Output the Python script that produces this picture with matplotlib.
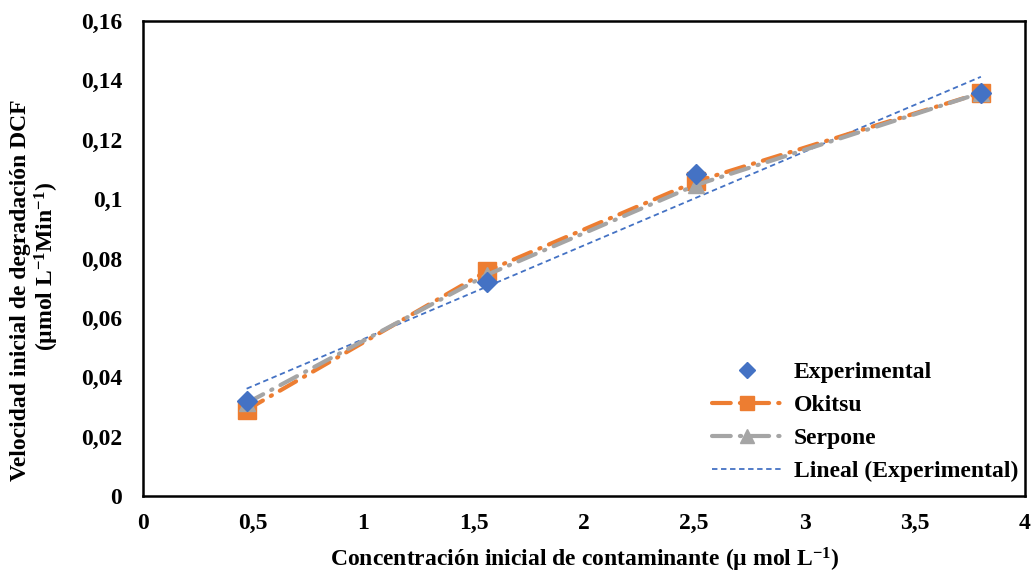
import numpy as np
import matplotlib
matplotlib.use('Agg')
import matplotlib.pyplot as plt
from matplotlib.ticker import FuncFormatter

# Concentracion inicial (umol/L) y velocidades iniciales de degradacion
conc = [0.47, 1.56, 2.51, 3.80]
experimental = [0.0320, 0.0721, 0.1085, 0.1358]
okitsu = [0.0290, 0.0758, 0.1060, 0.1358]
serpone = [0.0313, 0.0745, 0.1048, 0.1358]

x_ticks = [0, 0.5, 1, 1.5, 2, 2.5, 3, 3.5, 4]
y_ticks = [0, 0.02, 0.04, 0.06, 0.08, 0.10, 0.12, 0.14, 0.16]

BLUE = '#4472C4'
ORANGE = '#ED7D31'
GREY = '#A5A5A5'

plt.rcParams['font.family'] = ['Liberation Serif', 'DejaVu Serif']
plt.rcParams['font.weight'] = 'bold'
plt.rcParams['mathtext.fontset'] = 'custom'
plt.rcParams['mathtext.rm'] = 'Liberation Serif:bold'
plt.rcParams['mathtext.bf'] = 'Liberation Serif:bold'
plt.rcParams['mathtext.it'] = 'Liberation Serif:bold'

W, H = 1034, 575
fig = plt.figure(figsize=(W / 100, H / 100), dpi=100)
ax = fig.add_axes([143 / W, 1 - 496 / H, 882 / W, 475 / H])

# tendencia lineal de los datos experimentales
slope, intercept = np.polyfit(conc, experimental, 1)
x_fit = np.array([conc[0], conc[-1]])
ax.plot(x_fit, slope * x_fit + intercept, color=BLUE, lw=1.3,
        linestyle=(0, (3, 2)), label='Lineal (Experimental)', zorder=2)

ax.plot(conc, okitsu, color=ORANGE, lw=3, linestyle=(0, (4.5, 2.2, 0.3, 2.2)),
        dash_capstyle='round', marker='s', markersize=13, label='Okitsu', zorder=3)
ax.plot(conc, serpone, color=GREY, lw=3, linestyle=(0, (4.5, 2.2, 0.3, 2.2)),
        dash_capstyle='round', marker='^', markersize=12, label='Serpone', zorder=4)
ax.plot(conc, experimental, color=BLUE, lw=0, marker='D', markersize=10,
        label='Experimental', zorder=5)

ax.set_xlim(0, 4)
ax.set_ylim(0, 0.16)
ax.set_xticks(x_ticks)
ax.set_yticks(y_ticks)

fmt = FuncFormatter(lambda v, pos: ('%g' % round(v, 3)).replace('.', ','))
ax.xaxis.set_major_formatter(fmt)
ax.yaxis.set_major_formatter(fmt)
ax.tick_params(length=0, labelsize=17)
ax.tick_params(axis='x', pad=12)
ax.tick_params(axis='y', pad=15)

for s in ax.spines.values():
    s.set_linewidth(1.8)
    s.set_color('black')

# titulos de los ejes
fig.text(585 / W, 1 - 560 / H,
         r'Concentración inicial de contaminante (µ mol L$^{-1}$)',
         fontsize=17, fontweight='bold', ha='center', va='center')
fig.text(21 / W, 1 - 290 / H, 'Velocidad inicial de degradación DCF',
         fontsize=17, fontweight='bold', rotation=90, ha='center', va='center')
fig.text(47 / W, 1 - 267 / H, r'(µmol L$^{-1}$Min$^{-1}$)',
         fontsize=17, fontweight='bold', rotation=90, ha='center', va='center')

handles, labels = ax.get_legend_handles_labels()
order = [3, 1, 2, 0]
ax.legend([handles[i] for i in order], [labels[i] for i in order],
          loc='lower right', bbox_to_anchor=(1.008, 0.0), frameon=False,
          fontsize=17, handlelength=3.0, handletextpad=0.45, labelspacing=0.48,
          borderaxespad=0.2, markerscale=0.8)

fig.savefig('out.png', dpi=100)
